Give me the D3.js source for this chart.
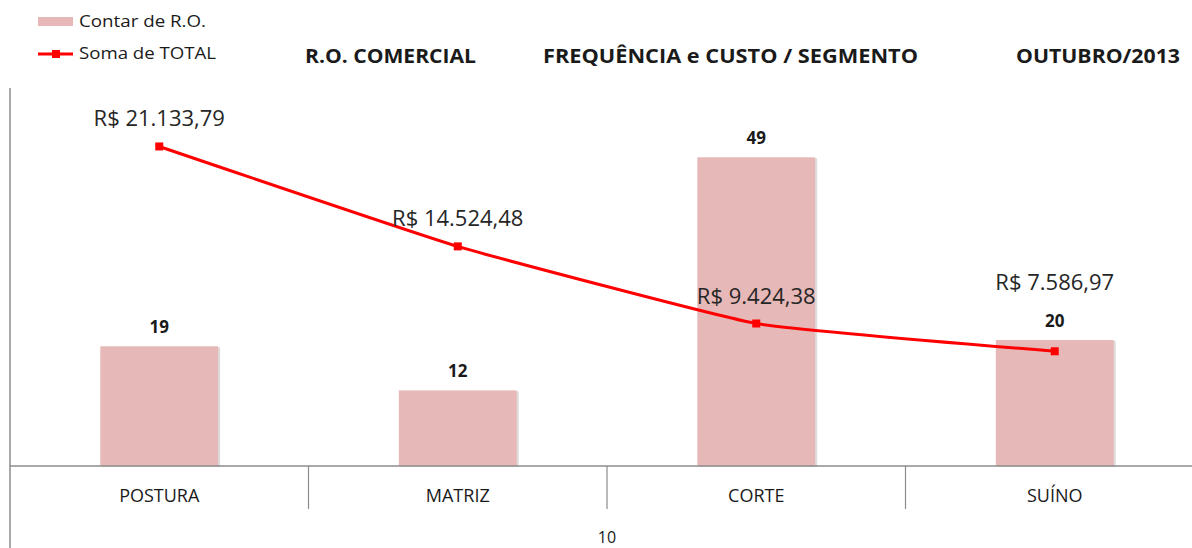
<!DOCTYPE html>
<html>
<head>
<meta charset="utf-8">
<script src="https://cdn.jsdelivr.net/npm/d3@7"></script>
<style>
  body { margin: 0; background: #fff; }
  svg { display: block; font-family: "Open Sans", "Noto Sans", sans-serif; }
</style>
</head>
<body>
<svg width="1192" height="548"></svg>
<script>
const categories = ["POSTURA", "MATRIZ", "CORTE", "SUÍNO"];
const contagem = [19, 12, 49, 20];
const somaTotal = [21133.79, 14524.48, 9424.38, 7586.97];
const titulos = ["R.O. COMERCIAL", "FREQUÊNCIA e CUSTO / SEGMENTO", "OUTUBRO/2013"];
const rodape = "10";

const width = 1192;
const height = 548;
const margin = { top: 88, right: 0, bottom: 82, left: 10 };
const baseY = height - margin.bottom;

const svg = d3.select("svg");

// a última categoria passa um pouco da borda, como no Excel
const x = d3
  .scaleBand()
  .domain(categories)
  .range([margin.left, 1204])
  .paddingInner(0)
  .paddingOuter(0);

const yBar = d3.scaleLinear().domain([0, 60]).range([baseY, margin.top]);
const yLine = d3.scaleLinear().domain([0, 25000]).range([baseY, margin.top]);

const fmtBRL = (v) =>
  "R$ " +
  v.toLocaleString("pt-BR", { minimumFractionDigits: 2, maximumFractionDigits: 2 });

// eixo da esquerda
svg
  .append("line")
  .attr("x1", margin.left)
  .attr("x2", margin.left)
  .attr("y1", margin.top)
  .attr("y2", height)
  .attr("stroke", "#8c8c8c")
  .attr("stroke-width", 1.5);

// barras (com sombra leve)
const barW = x.bandwidth() * 0.395;
const barras = svg.append("g");
barras
  .selectAll("rect.sombra")
  .data(categories)
  .join("rect")
  .attr("class", "sombra")
  .attr("x", (d) => x(d) + x.bandwidth() / 2 - barW / 2 + 2)
  .attr("y", (d, i) => yBar(contagem[i]) + 1)
  .attr("width", barW)
  .attr("height", (d, i) => baseY - yBar(contagem[i]))
  .attr("fill", "#dcdcdc");
barras
  .selectAll("rect.barra")
  .data(categories)
  .join("rect")
  .attr("class", "barra")
  .attr("x", (d) => x(d) + x.bandwidth() / 2 - barW / 2)
  .attr("y", (d, i) => yBar(contagem[i]))
  .attr("width", barW)
  .attr("height", (d, i) => baseY - yBar(contagem[i]))
  .attr("fill", "#e6b8b7");

barras
  .selectAll("text")
  .data(categories)
  .join("text")
  .attr("x", (d) => x(d) + x.bandwidth() / 2)
  .attr("y", (d, i) => yBar(contagem[i]) - 13)
  .attr("text-anchor", "middle")
  .attr("font-size", 17)
  .attr("font-weight", "bold")
  .attr("fill", "#1a1a1a")
  .text((d, i) => contagem[i]);

// eixo das categorias
const eixo = svg.append("g");
eixo
  .append("line")
  .attr("x1", margin.left)
  .attr("x2", width)
  .attr("y1", baseY)
  .attr("y2", baseY)
  .attr("stroke", "#8c8c8c")
  .attr("stroke-width", 1.5);
eixo
  .selectAll("line.sep")
  .data(categories.slice(1))
  .join("line")
  .attr("class", "sep")
  .attr("x1", (d) => x(d))
  .attr("x2", (d) => x(d))
  .attr("y1", baseY)
  .attr("y2", baseY + 43)
  .attr("stroke", "#8c8c8c")
  .attr("stroke-width", 1.2);
eixo
  .selectAll("text")
  .data(categories)
  .join("text")
  .attr("x", (d) => x(d) + x.bandwidth() / 2)
  .attr("y", baseY + 36)
  .attr("text-anchor", "middle")
  .attr("font-size", 18)
  .attr("fill", "#1a1a1a")
  .text((d) => d);

svg
  .append("text")
  .attr("x", x(categories[2]))
  .attr("y", 543)
  .attr("text-anchor", "middle")
  .attr("font-size", 16)
  .attr("fill", "#1a1a1a")
  .text(rodape);

// linha de custo
const pts = categories.map((c, i) => [x(c) + x.bandwidth() / 2, yLine(somaTotal[i])]);
svg
  .append("path")
  .attr("d", d3.line().curve(d3.curveCardinal.tension(0.65))(pts))
  .attr("fill", "none")
  .attr("stroke", "#ff0000")
  .attr("stroke-width", 3);
svg
  .append("g")
  .selectAll("rect")
  .data(pts)
  .join("rect")
  .attr("x", (d) => d[0] - 4)
  .attr("y", (d) => d[1] - 4)
  .attr("width", 8)
  .attr("height", 8)
  .attr("fill", "#ff0000");

svg
  .append("g")
  .selectAll("text")
  .data(pts)
  .join("text")
  .attr("x", (d) => d[0])
  .attr("y", (d, i) => {
    const topo = yBar(contagem[i]);
    // sobe o rótulo quando bate no valor da barra
    if (Math.abs(d[1] - topo) < 40) return topo - 50;
    return d[1] - 20;
  })
  .attr("text-anchor", "middle")
  .attr("font-size", 22)
  .attr("fill", "#262626")
  .text((d, i) => fmtBRL(somaTotal[i]));

// legenda
const leg = svg.append("g");
leg
  .append("rect")
  .attr("x", 38)
  .attr("y", 17)
  .attr("width", 35)
  .attr("height", 9)
  .attr("fill", "#e6b8b7");
leg
  .append("text")
  .attr("x", 79)
  .attr("y", 27)
  .attr("font-size", 16)
  .attr("fill", "#1a1a1a")
  .attr("textLength", 127)
  .attr("lengthAdjust", "spacingAndGlyphs")
  .text("Contar de R.O.");
leg
  .append("line")
  .attr("x1", 38)
  .attr("x2", 73)
  .attr("y1", 54)
  .attr("y2", 54)
  .attr("stroke", "#ff0000")
  .attr("stroke-width", 3);
leg
  .append("rect")
  .attr("x", 52)
  .attr("y", 50)
  .attr("width", 8)
  .attr("height", 8)
  .attr("fill", "#ff0000");
leg
  .append("text")
  .attr("x", 79)
  .attr("y", 59)
  .attr("font-size", 16)
  .attr("fill", "#1a1a1a")
  .attr("textLength", 137)
  .attr("lengthAdjust", "spacingAndGlyphs")
  .text("Soma de TOTAL");

// títulos
const tituloPos = [
  { x: 305, w: 171 },
  { x: 543, w: 375 },
  { x: 1016, w: 164 },
];
svg
  .append("g")
  .selectAll("text")
  .data(titulos)
  .join("text")
  .attr("x", (d, i) => tituloPos[i].x)
  .attr("y", 63)
  .attr("font-size", 19)
  .attr("font-weight", "bold")
  .attr("fill", "#1a1a1a")
  .attr("textLength", (d, i) => tituloPos[i].w)
  .attr("lengthAdjust", "spacingAndGlyphs")
  .text((d) => d);
</script>
</body>
</html>
